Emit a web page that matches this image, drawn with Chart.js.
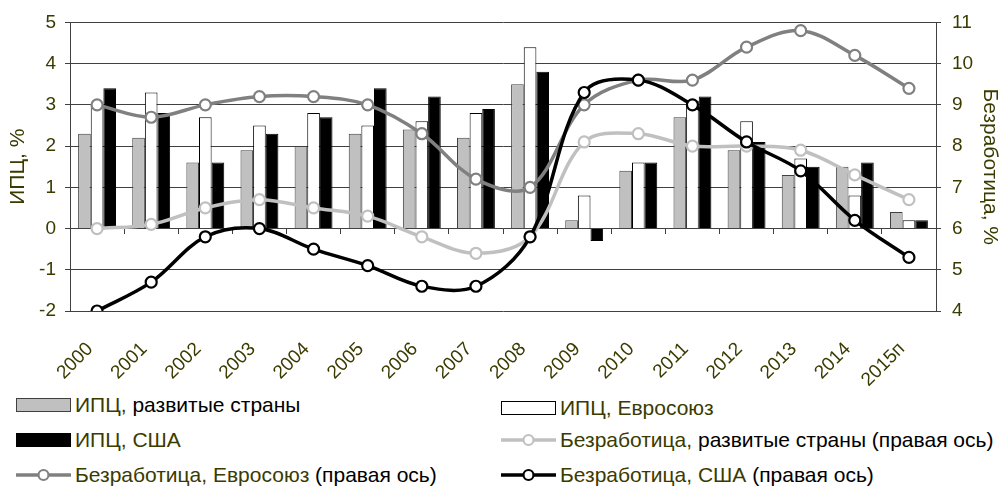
<!DOCTYPE html>
<html>
<head>
<meta charset="utf-8">
<script src="https://cdn.jsdelivr.net/npm/chart.js@4"></script>
<style>
  body { margin: 0; background: #fff; font-family: "Liberation Sans", Arial, sans-serif; }
  #wrap { position: relative; width: 1002px; height: 488px; }
  #box { position: absolute; left: 0; top: 0; width: 1002px; height: 392px; }
  .item { position: absolute; height: 24px; display: flex; align-items: center; font-size: 21px; color: #000; white-space: nowrap; }
  .item canvas { margin-right: 3px; }
  .ol { color: #3b3b00; }
</style>
</head>
<body>
<div id="wrap">
  <div id="box"><canvas id="chart"></canvas></div>
  <div id="legend"></div>
</div>
<script>
const years = ['2000', '2001', '2002', '2003', '2004', '2005', '2006', '2007',
  '2008', '2009', '2010', '2011', '2012', '2013', '2014', '2015п'];

// ИПЦ, % (left axis)
const cpiDeveloped = [2.3, 2.2, 1.6, 1.9, 2.0, 2.3, 2.4, 2.2, 3.5, 0.2, 1.4, 2.7, 1.9, 1.3, 1.5, 0.4];
const cpiEU = [3.0, 3.3, 2.7, 2.5, 2.8, 2.5, 2.6, 2.8, 4.4, 0.8, 1.6, 3.1, 2.6, 1.7, 0.8, 0.2];
const cpiUSA = [3.4, 2.8, 1.6, 2.3, 2.7, 3.4, 3.2, 2.9, 3.8, -0.3, 1.6, 3.2, 2.1, 1.5, 1.6, 0.2];

// Безработица, % (right axis)
const unempDeveloped = [6.0, 6.1, 6.5, 6.7, 6.5, 6.3, 5.8, 5.4, 5.8, 8.1, 8.3, 8.0, 8.0, 7.9, 7.3, 6.7];
const unempEU = [9.0, 8.7, 9.0, 9.2, 9.2, 9.0, 8.3, 7.2, 7.0, 9.0, 9.6, 9.6, 10.4, 10.8, 10.2, 9.4];
const unempUSA = [4.0, 4.7, 5.8, 6.0, 5.5, 5.1, 4.6, 4.6, 5.8, 9.3, 9.6, 9.0, 8.1, 7.4, 6.2, 5.3];

const leftTicks = [-2, -1, 0, 1, 2, 3, 4, 5];
const rightTicks = [4, 5, 6, 7, 8, 9, 10, 11];

const textColor = '#3b3b00';
const gridColor = '#404040';
const font = 'Liberation Sans';

function barSet(label, data, fill, border) {
  return {
    type: 'bar', label, data, yAxisID: 'y', order: 5,
    backgroundColor: fill, borderColor: border, borderWidth: 1,
    categoryPercentage: 0.7, barPercentage: 1.0
  };
}
function lineSet(label, data, color, order) {
  return {
    type: 'line', label, data, yAxisID: 'y1', order,
    borderColor: color, borderWidth: 3.5, tension: 0.35,
    pointRadius: 5.5, pointBorderWidth: 2.2,
    pointBackgroundColor: '#fff', pointBorderColor: color
  };
}

const datasets = [
  barSet('ИПЦ, развитые страны', cpiDeveloped, '#c0c0c0', '#404040'),
  barSet('ИПЦ, Евросоюз', cpiEU, '#ffffff', '#000'),
  barSet('ИПЦ, США', cpiUSA, '#000000', '#000'),
  lineSet('Безработица, развитые страны (правая ось)', unempDeveloped, '#c0c0c0', 2),
  lineSet('Безработица, Евросоюз (правая ось)', unempEU, '#808080', 1),
  lineSet('Безработица, США (правая ось)', unempUSA, '#000000', 0)
];

new Chart(document.getElementById('chart'), {
  data: { labels: years, datasets },
  options: {
    responsive: true,
    maintainAspectRatio: false,
    animation: false,
    layout: { padding: { top: 22, left: 0, right: 0, bottom: 0 } },
    plugins: { legend: { display: false }, tooltip: { enabled: false } },
    scales: {
      x: {
        type: 'category',
        position: 'bottom',
        offset: true,
        grid: { display: false, drawTicks: false },
        border: { display: false },
        ticks: {
          color: textColor, font: { family: font, size: 19 },
          minRotation: 45, maxRotation: 45, padding: 27, labelOffset: -7, autoSkip: false
        },
        afterFit(s) { s.height = 81; }
      },
      x0: {
        type: 'category',
        position: { y: 0 },
        offset: true,
        grid: { offset: true, drawOnChartArea: false, drawTicks: true, tickLength: 5, color: gridColor },
        border: { display: true, color: gridColor, width: 1 },
        ticks: { display: false }
      },
      y: {
        position: 'left',
        min: -2, max: 5,
        afterBuildTicks(s) { s.ticks = leftTicks.map(v => ({ value: v })); },
        grid: { color: gridColor, tickLength: 5 },
        border: { display: true, color: gridColor },
        ticks: { color: textColor, font: { family: font, size: 19 }, padding: 9 },
        title: {
          display: true, text: 'ИПЦ, %', color: textColor,
          font: { family: font, size: 21 }, padding: { top: 6, bottom: 0 }
        },
        afterFit(s) { s.width = 70; }
      },
      y1: {
        position: 'right',
        min: 4, max: 11,
        afterBuildTicks(s) { s.ticks = rightTicks.map(v => ({ value: v })); },
        grid: { drawOnChartArea: false, color: gridColor, tickLength: 5 },
        border: { display: true, color: gridColor },
        ticks: { color: textColor, font: { family: font, size: 19 }, padding: 11 },
        title: {
          display: true, text: 'Безработица, %', color: textColor,
          font: { family: font, size: 21 }, padding: { top: 0, bottom: 0 }
        },
        afterFit(s) { s.width = 66; }
      }
    }
  }
});

// legend drawn as html, swatches taken from the datasets
const legendPlaces = [
  { ds: 0, x: 16, y: 393, html: '<span class="ol">ИПЦ,</span> развитые страны' },
  { ds: 1, x: 501, y: 396, html: '<span class="ol">ИПЦ, Евросоюз</span>' },
  { ds: 2, x: 16, y: 428, html: '<span class="ol">ИПЦ, США</span>' },
  { ds: 3, x: 501, y: 428, html: '<span class="ol">Безработица,</span> развитые страны (правая ось)' },
  { ds: 4, x: 16, y: 463, html: '<span class="ol">Безработица, Евросоюз</span> (правая ось)' },
  { ds: 5, x: 501, y: 463, html: '<span class="ol">Безработица, США</span> (правая ось)' }
];

const legendEl = document.getElementById('legend');
legendPlaces.forEach(p => {
  const d = datasets[p.ds];
  const item = document.createElement('div');
  item.className = 'item';
  item.style.left = p.x + 'px';
  item.style.top = p.y + 'px';
  const sw = document.createElement('canvas');
  sw.width = 56; sw.height = 20;
  const c = sw.getContext('2d');
  if (d.type === 'bar') {
    c.fillStyle = d.backgroundColor;
    c.fillRect(0.5, 3.5, 54, 13);
    c.strokeStyle = d.borderColor;
    c.lineWidth = 1;
    c.strokeRect(0.5, 3.5, 54, 13);
  } else {
    c.strokeStyle = d.borderColor;
    c.lineWidth = 3.5;
    c.beginPath(); c.moveTo(0, 10); c.lineTo(55, 10); c.stroke();
    c.fillStyle = '#fff';
    c.lineWidth = 2.2;
    c.beginPath(); c.arc(27.5, 10, 5, 0, Math.PI * 2); c.fill(); c.stroke();
  }
  item.appendChild(sw);
  const t = document.createElement('span');
  t.innerHTML = p.html;
  item.appendChild(t);
  legendEl.appendChild(item);
});
</script>
</body>
</html>
